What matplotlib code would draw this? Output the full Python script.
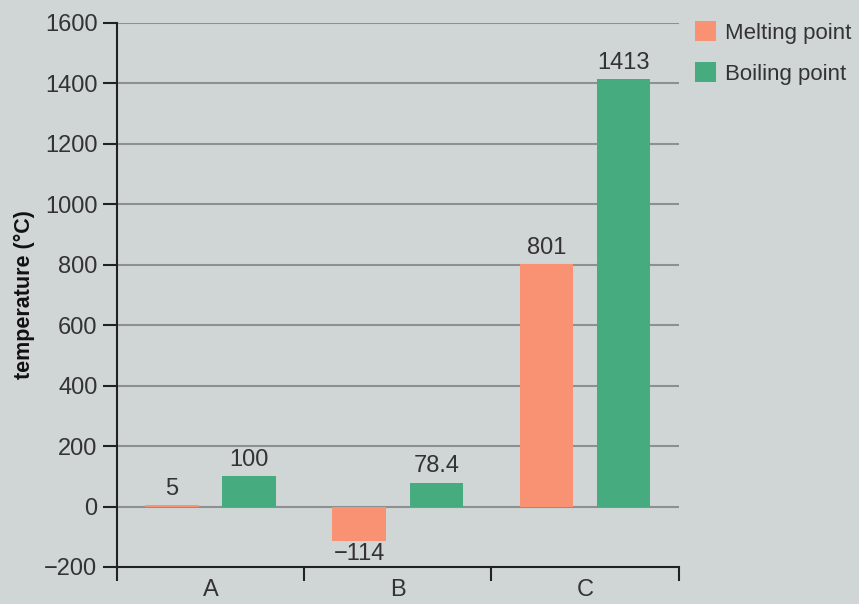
import numpy as np
import matplotlib.pyplot as plt

# data
categories = ["A", "B", "C"]
melting = [5, -114, 801]
boiling = [100, 78.4, 1413]
melt_labels = ["5", "\u2212114", "801"]
boil_labels = ["100", "78.4", "1413"]
series_names = ["Melting point", "Boiling point"]
y_ticks = [-200, 0, 200, 400, 600, 800, 1000, 1200, 1400, 1600]

BG = "#d0d5d6"
MELT_COLOR = "#f89272"
BOIL_COLOR = "#46ab7e"
TEXT = "#333333"
FS = 17

plt.rcParams['font.family'] = ['Liberation Sans', 'DejaVu Sans']

fig = plt.figure(figsize=(8.59, 6.04), dpi=100, facecolor=BG)
ax = fig.add_axes([0.136, 0.0613, 0.654, 0.9007])
ax.set_facecolor(BG)

x = np.arange(len(categories))
offset = 0.206
width = 0.285

# grid lines behind bars
for yv in y_ticks[1:]:
    ax.axhline(yv, color="#8c9091", lw=1.5, zorder=1)

b1 = ax.bar(x - offset, melting, width, color=MELT_COLOR, zorder=2, label=series_names[0])
b2 = ax.bar(x + offset, boiling, width, color=BOIL_COLOR, zorder=2, label=series_names[1])

# value labels
for xi, v, lab in zip(x - offset, melting, melt_labels):
    if v >= 0:
        ax.text(xi, v + 18, lab, ha="center", va="bottom", fontsize=FS, color=TEXT)
    else:
        ax.text(xi, v - 6, lab, ha="center", va="top", fontsize=FS, color=TEXT)
for xi, v, lab in zip(x + offset, boiling, boil_labels):
    ax.text(xi, v + 18, lab, ha="center", va="bottom", fontsize=FS, color=TEXT)

ax.set_xlim(-0.5, 2.5)
ax.set_ylim(-200, 1600)
ax.set_yticks(y_ticks)
ax.set_yticklabels([str(t).replace("-", "\u2212") for t in y_ticks])

# category boundaries as major ticks, labels centered as minor ticks
ax.set_xticks([-0.5, 0.5, 1.5, 2.5])
ax.set_xticklabels([])
ax.set_xticks(x, minor=True)
ax.set_xticklabels(categories, minor=True)
ax.tick_params(axis="x", which="major", length=10, width=1.5, color="#222222")
ax.tick_params(axis="x", which="minor", length=0, pad=9, labelsize=FS, labelcolor=TEXT)
ax.tick_params(axis="y", length=10, width=1.5, color="#222222", labelsize=FS,
               labelcolor=TEXT, pad=4)

for side in ["top", "right"]:
    ax.spines[side].set_visible(False)
for side in ["left", "bottom"]:
    ax.spines[side].set_linewidth(1.5)
    ax.spines[side].set_color("#222222")

ax.set_ylabel("temperature (\u00b0C)", fontsize=15.5, fontweight="bold", color="#111111", labelpad=7)

fig.legend(handles=[b1, b2], labels=series_names, loc="upper left",
           bbox_to_anchor=(0.796, 0.983), frameon=False, fontsize=16,
           handlelength=0.95, handleheight=0.95, handletextpad=0.4,
           labelspacing=0.85, borderpad=0, labelcolor=TEXT)

fig.savefig("out.png", dpi=100, facecolor=BG)
